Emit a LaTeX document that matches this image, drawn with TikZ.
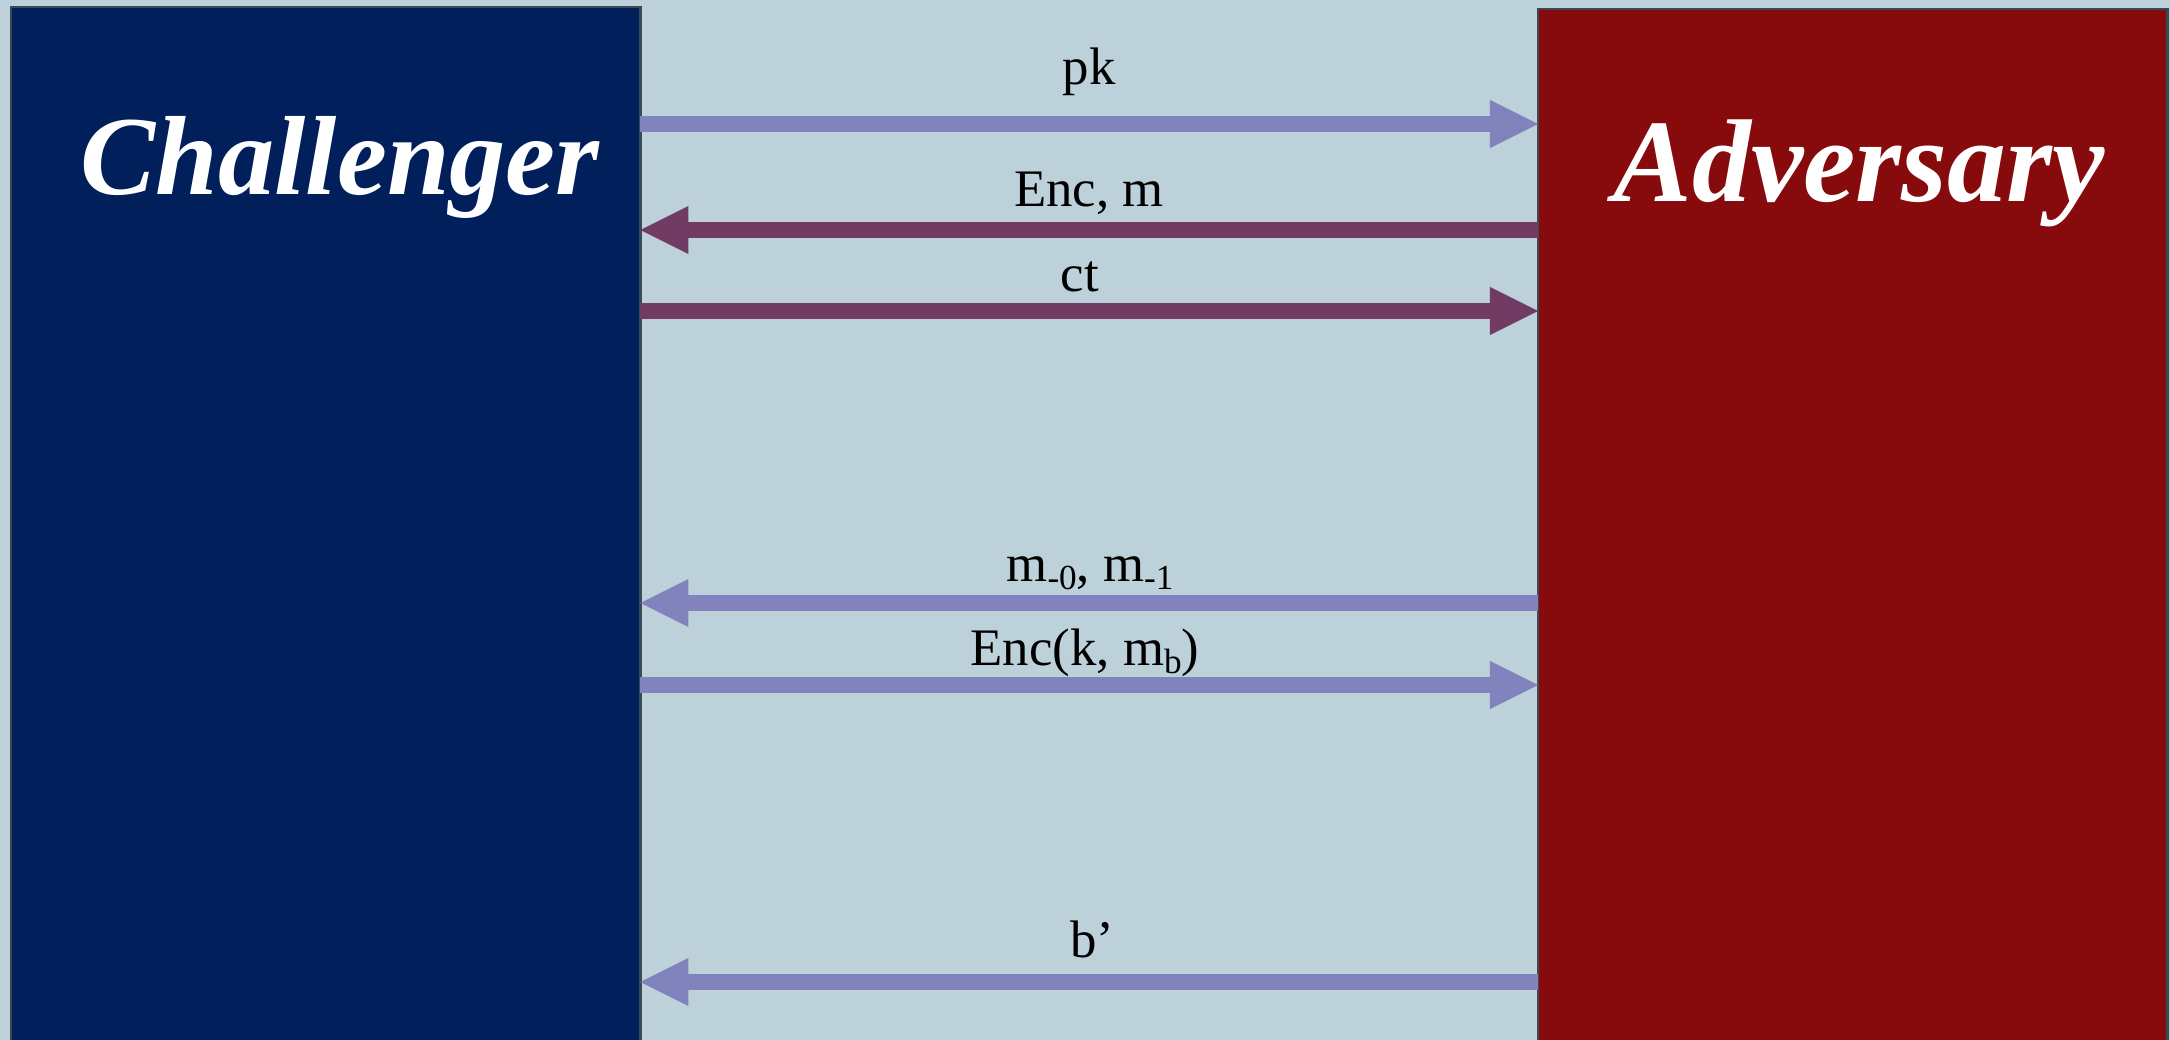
\documentclass[tikz,border=0pt]{standalone}
\usepackage{fontspec}
\setmainfont{Liberation Serif}
\usetikzlibrary{arrows.meta}
\definecolor{bg}{HTML}{BDD1DA}
\definecolor{navy}{HTML}{001F5B}
\definecolor{crimson}{HTML}{870B0C}
\definecolor{lav}{HTML}{8083BC}
\definecolor{plum}{HTML}{713B64}
\definecolor{edge}{HTML}{3B4955}
\newcommand{\lowsub}[1]{\raisebox{-0.35ex}{\fontsize{10}{12}\selectfont #1}}
\begin{document}
\begin{tikzpicture}[x=0.01cm,y=-0.01cm,
  party/.style={draw=edge,line width=0.8pt,outer sep=0pt,inner sep=0pt,anchor=north west,minimum height=10.6cm,minimum width=6.29cm},
  title/.style={text=white,font=\fontsize{32}{36}\selectfont\bfseries\itshape,anchor=base west,inner sep=0pt},
  msg/.style={font=\fontsize{15}{18}\selectfont,anchor=base,inner sep=0pt},
  flow/.style={line width=0.165cm,-{Triangle[length=0.48cm,width=0.48cm,line width=0pt]}}]
\useasboundingbox (0,0) rectangle (2170,1040);
\clip (0,0) rectangle (2170,1040);
\fill[bg] (0,0) rectangle (2170,1040);
\node[party,fill=navy] (chal) at (11,7) {};
\node[party,fill=crimson] (adv) at (1538,9) {};
\node[title] (chaltitle) at (80,195) {Challenger};
\node[title,font=\fontsize{33.5}{38}\selectfont\bfseries\itshape] (advtitle) at (1613,202) {Adversary};
\coordinate (r1) at (0,124);
\coordinate (r2) at (0,230);
\coordinate (r3) at (0,311);
\coordinate (r4) at (0,603);
\coordinate (r5) at (0,685);
\coordinate (r6) at (0,982);
\draw[flow,lav] (chal.east |- r1) -- (adv.west |- r1);
\draw[flow,plum] (adv.west |- r2) -- (chal.east |- r2);
\draw[flow,plum] (chal.east |- r3) -- (adv.west |- r3);
\draw[flow,lav] (adv.west |- r4) -- (chal.east |- r4);
\draw[flow,lav] (chal.east |- r5) -- (adv.west |- r5);
\draw[flow,lav] (adv.west |- r6) -- (chal.east |- r6);
\node[msg] (l1) at (1089,85) {pk};
\node[msg] (l2) at (1089,207) {Enc, m};
\node[msg] (l3) at (1080,292) {ct};
\node[msg] (l4) at (1090,581) {m\lowsub{-0}, m\lowsub{-1}};
\node[msg] (l5) at (1085,665) {Enc(k, m\lowsub{b})};
\node[msg] (l6) at (1092,957) {b’};
\end{tikzpicture}
\end{document}
